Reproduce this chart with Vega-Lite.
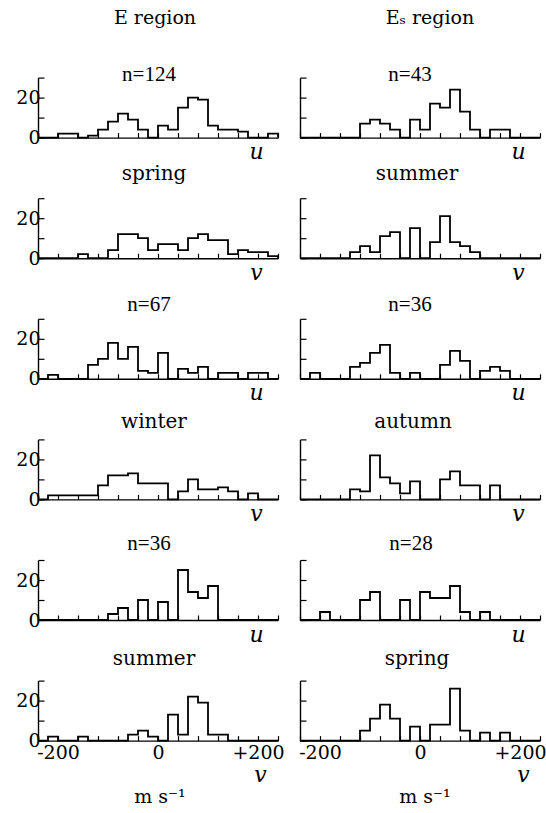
{
  "$schema": "https://vega.github.io/schema/vega-lite/v6.json",
  "padding": {"left": 15, "top": 6, "right": 0, "bottom": 2},
  "background": "white",
  "config": {
    "view": {"stroke": null},
    "title": {"font": "DejaVu Serif", "fontSize": 20, "fontWeight": "normal", "color": "black", "baseline": "alphabetic", "anchor": "middle", "frame": "group"},
    "axis": {"domainColor": "black", "domainWidth": 1.4, "tickColor": "black", "tickWidth": 1.2, "grid": false, "labelFont": "DejaVu Serif", "labelFontSize": 19, "labelColor": "black", "titleFont": "DejaVu Serif", "titleFontStyle": "italic", "titleFontWeight": "normal", "titleFontSize": 22, "titleColor": "black"},
    "axisX": {"tickSize": -5, "labelPadding": 8, "titleAlign": "center", "titleBaseline": "alphabetic", "labelFlush": false, "labelOverlap": false},
    "axisY": {"tickSize": -6, "labelPadding": 4},
    "text": {"font": "DejaVu Serif", "fontSize": 19, "color": "black", "baseline": "alphabetic"}
  },
  "datasets": {
    "p1": [{"x":-240,"c":0},{"x":-220,"c":0},{"x":-200,"c":2},{"x":-180,"c":2},{"x":-160,"c":0},{"x":-140,"c":1},{"x":-120,"c":4},{"x":-100,"c":8},{"x":-80,"c":12},{"x":-60,"c":9},{"x":-40,"c":4},{"x":-20,"c":0},{"x":0,"c":6},{"x":20,"c":4},{"x":40,"c":15},{"x":60,"c":20},{"x":80,"c":19},{"x":100,"c":6},{"x":120,"c":4},{"x":140,"c":4},{"x":160,"c":3},{"x":180,"c":0},{"x":200,"c":0},{"x":220,"c":2},{"x":240,"c":0}],
    "p2": [{"x":-240,"c":0},{"x":-220,"c":0},{"x":-200,"c":0},{"x":-180,"c":0},{"x":-160,"c":0},{"x":-140,"c":0},{"x":-120,"c":7},{"x":-100,"c":9},{"x":-80,"c":7},{"x":-60,"c":4},{"x":-40,"c":0},{"x":-20,"c":9},{"x":0,"c":4},{"x":20,"c":17},{"x":40,"c":15},{"x":60,"c":24},{"x":80,"c":13},{"x":100,"c":4},{"x":120,"c":0},{"x":140,"c":4},{"x":160,"c":4},{"x":180,"c":0},{"x":200,"c":0},{"x":220,"c":0},{"x":240,"c":0}],
    "p3": [{"x":-240,"c":0},{"x":-220,"c":0},{"x":-200,"c":0},{"x":-180,"c":0},{"x":-160,"c":2},{"x":-140,"c":0},{"x":-120,"c":0},{"x":-100,"c":4},{"x":-80,"c":12},{"x":-60,"c":12},{"x":-40,"c":10},{"x":-20,"c":4},{"x":0,"c":7},{"x":20,"c":7},{"x":40,"c":4},{"x":60,"c":10},{"x":80,"c":12},{"x":100,"c":9},{"x":120,"c":9},{"x":140,"c":2},{"x":160,"c":4},{"x":180,"c":3},{"x":200,"c":3},{"x":220,"c":1},{"x":240,"c":0}],
    "p4": [{"x":-240,"c":0},{"x":-220,"c":0},{"x":-200,"c":0},{"x":-180,"c":0},{"x":-160,"c":0},{"x":-140,"c":3},{"x":-120,"c":6},{"x":-100,"c":3},{"x":-80,"c":11},{"x":-60,"c":13},{"x":-40,"c":0},{"x":-20,"c":15},{"x":0,"c":0},{"x":20,"c":8},{"x":40,"c":21},{"x":60,"c":8},{"x":80,"c":6},{"x":100,"c":3},{"x":120,"c":0},{"x":140,"c":0},{"x":160,"c":0},{"x":180,"c":0},{"x":200,"c":0},{"x":220,"c":0},{"x":240,"c":0}],
    "p5": [{"x":-240,"c":0},{"x":-220,"c":2},{"x":-200,"c":0},{"x":-180,"c":0},{"x":-160,"c":0},{"x":-140,"c":7},{"x":-120,"c":10},{"x":-100,"c":18},{"x":-80,"c":10},{"x":-60,"c":16},{"x":-40,"c":4},{"x":-20,"c":3},{"x":0,"c":13},{"x":20,"c":0},{"x":40,"c":5},{"x":60,"c":3},{"x":80,"c":6},{"x":100,"c":0},{"x":120,"c":3},{"x":140,"c":3},{"x":160,"c":0},{"x":180,"c":3},{"x":200,"c":3},{"x":220,"c":0},{"x":240,"c":0}],
    "p6": [{"x":-240,"c":0},{"x":-220,"c":3},{"x":-200,"c":0},{"x":-180,"c":0},{"x":-160,"c":0},{"x":-140,"c":6},{"x":-120,"c":8},{"x":-100,"c":13},{"x":-80,"c":17},{"x":-60,"c":3},{"x":-40,"c":0},{"x":-20,"c":3},{"x":0,"c":0},{"x":20,"c":0},{"x":40,"c":7},{"x":60,"c":14},{"x":80,"c":9},{"x":100,"c":0},{"x":120,"c":4},{"x":140,"c":6},{"x":160,"c":4},{"x":180,"c":0},{"x":200,"c":0},{"x":220,"c":0},{"x":240,"c":0}],
    "p7": [{"x":-240,"c":0},{"x":-220,"c":2},{"x":-200,"c":2},{"x":-180,"c":2},{"x":-160,"c":2},{"x":-140,"c":2},{"x":-120,"c":7},{"x":-100,"c":12},{"x":-80,"c":12},{"x":-60,"c":13},{"x":-40,"c":8},{"x":-20,"c":8},{"x":0,"c":8},{"x":20,"c":0},{"x":40,"c":4},{"x":60,"c":10},{"x":80,"c":5},{"x":100,"c":5},{"x":120,"c":6},{"x":140,"c":4},{"x":160,"c":0},{"x":180,"c":3},{"x":200,"c":0},{"x":220,"c":0},{"x":240,"c":0}],
    "p8": [{"x":-240,"c":0},{"x":-220,"c":0},{"x":-200,"c":0},{"x":-180,"c":0},{"x":-160,"c":0},{"x":-140,"c":5},{"x":-120,"c":4},{"x":-100,"c":22},{"x":-80,"c":11},{"x":-60,"c":8},{"x":-40,"c":3},{"x":-20,"c":9},{"x":0,"c":0},{"x":20,"c":0},{"x":40,"c":10},{"x":60,"c":14},{"x":80,"c":7},{"x":100,"c":7},{"x":120,"c":0},{"x":140,"c":7},{"x":160,"c":0},{"x":180,"c":0},{"x":200,"c":0},{"x":220,"c":0},{"x":240,"c":0}],
    "p9": [{"x":-240,"c":0},{"x":-220,"c":0},{"x":-200,"c":0},{"x":-180,"c":0},{"x":-160,"c":0},{"x":-140,"c":0},{"x":-120,"c":0},{"x":-100,"c":3},{"x":-80,"c":6},{"x":-60,"c":0},{"x":-40,"c":10},{"x":-20,"c":0},{"x":0,"c":9},{"x":20,"c":0},{"x":40,"c":25},{"x":60,"c":14},{"x":80,"c":11},{"x":100,"c":17},{"x":120,"c":0},{"x":140,"c":0},{"x":160,"c":0},{"x":180,"c":0},{"x":200,"c":0},{"x":220,"c":0},{"x":240,"c":0}],
    "p10": [{"x":-240,"c":0},{"x":-220,"c":0},{"x":-200,"c":4},{"x":-180,"c":0},{"x":-160,"c":0},{"x":-140,"c":0},{"x":-120,"c":10},{"x":-100,"c":14},{"x":-80,"c":0},{"x":-60,"c":0},{"x":-40,"c":10},{"x":-20,"c":0},{"x":0,"c":14},{"x":20,"c":11},{"x":40,"c":11},{"x":60,"c":17},{"x":80,"c":4},{"x":100,"c":0},{"x":120,"c":4},{"x":140,"c":0},{"x":160,"c":0},{"x":180,"c":0},{"x":200,"c":0},{"x":220,"c":0},{"x":240,"c":0}],
    "p11": [{"x":-240,"c":0},{"x":-220,"c":2},{"x":-200,"c":0},{"x":-180,"c":0},{"x":-160,"c":2},{"x":-140,"c":0},{"x":-120,"c":0},{"x":-100,"c":0},{"x":-80,"c":0},{"x":-60,"c":3},{"x":-40,"c":5},{"x":-20,"c":2},{"x":0,"c":0},{"x":20,"c":13},{"x":40,"c":3},{"x":60,"c":22},{"x":80,"c":19},{"x":100,"c":3},{"x":120,"c":3},{"x":140,"c":0},{"x":160,"c":0},{"x":180,"c":0},{"x":200,"c":0},{"x":220,"c":0},{"x":240,"c":0}],
    "p12": [{"x":-240,"c":0},{"x":-220,"c":0},{"x":-200,"c":0},{"x":-180,"c":0},{"x":-160,"c":0},{"x":-140,"c":0},{"x":-120,"c":5},{"x":-100,"c":11},{"x":-80,"c":18},{"x":-60,"c":11},{"x":-40,"c":0},{"x":-20,"c":7},{"x":0,"c":0},{"x":20,"c":8},{"x":40,"c":8},{"x":60,"c":26},{"x":80,"c":5},{"x":100,"c":0},{"x":120,"c":4},{"x":140,"c":0},{"x":160,"c":4},{"x":180,"c":0},{"x":200,"c":0},{"x":220,"c":0},{"x":240,"c":0}]
  },
  "hconcat": [
    {
      "bounds": "flush",
      "spacing": 60.6,
      "vconcat": [
        {"width": 240, "height": 10.4, "data": {"values": [{"t": "E region"}]}, "mark": {"type": "text", "dy": 13, "dx": -3}, "encoding": {"text": {"field": "t"}}},
        {"width": 240, "height": 60, "data": {"name": "p1"}, "title": {"text": "n=124", "offset": -8, "dx": -9, "font": "Liberation Serif", "fontSize": 21},
         "mark": {"type": "line", "interpolate": "step-after", "color": "black", "strokeWidth": 1.8},
         "encoding": {"x": {"field": "x", "type": "quantitative", "scale": {"domain": [-240, 240], "nice": false, "zero": false}, "axis": {"values": [-240,-200,-160,-120,-80,-40,0,40,80,120,160,200,240], "labels": false, "title": "u", "titleX": 218, "titleY": 21}},
                      "y": {"field": "c", "type": "quantitative", "scale": {"domain": [0, 30], "nice": false}, "axis": {"values": [0,10,20,30], "labelExpr": "datum.value==0||datum.value==20?datum.label:''", "title": null}}}},
        {"width": 240, "height": 60, "data": {"name": "p3"}, "title": {"text": "spring", "offset": 14, "dx": -4},
         "mark": {"type": "line", "interpolate": "step-after", "color": "black", "strokeWidth": 1.8},
         "encoding": {"x": {"field": "x", "type": "quantitative", "scale": {"domain": [-240, 240], "nice": false, "zero": false}, "axis": {"values": [-240,-200,-160,-120,-80,-40,0,40,80,120,160,200,240], "labels": false, "title": "v", "titleX": 218, "titleY": 21}},
                      "y": {"field": "c", "type": "quantitative", "scale": {"domain": [0, 30], "nice": false}, "axis": {"values": [0,10,20,30], "labelExpr": "datum.value==0||datum.value==20?datum.label:''", "title": null}}}},
        {"width": 240, "height": 60, "data": {"name": "p5"}, "title": {"text": "n=67", "offset": 3, "dx": -9, "font": "Liberation Serif", "fontSize": 21},
         "mark": {"type": "line", "interpolate": "step-after", "color": "black", "strokeWidth": 1.8},
         "encoding": {"x": {"field": "x", "type": "quantitative", "scale": {"domain": [-240, 240], "nice": false, "zero": false}, "axis": {"values": [-240,-200,-160,-120,-80,-40,0,40,80,120,160,200,240], "labels": false, "title": "u", "titleX": 218, "titleY": 21}},
                      "y": {"field": "c", "type": "quantitative", "scale": {"domain": [0, 30], "nice": false}, "axis": {"values": [0,10,20,30], "labelExpr": "datum.value==0||datum.value==20?datum.label:''", "title": null}}}},
        {"width": 240, "height": 60, "data": {"name": "p7"}, "title": {"text": "winter", "offset": 7, "dx": -4},
         "mark": {"type": "line", "interpolate": "step-after", "color": "black", "strokeWidth": 1.8},
         "encoding": {"x": {"field": "x", "type": "quantitative", "scale": {"domain": [-240, 240], "nice": false, "zero": false}, "axis": {"values": [-240,-200,-160,-120,-80,-40,0,40,80,120,160,200,240], "labels": false, "title": "v", "titleX": 218, "titleY": 21}},
                      "y": {"field": "c", "type": "quantitative", "scale": {"domain": [0, 30], "nice": false}, "axis": {"values": [0,10,20,30], "labelExpr": "datum.value==0||datum.value==20?datum.label:''", "title": null}}}},
        {"width": 240, "height": 60, "data": {"name": "p9"}, "title": {"text": "n=36", "offset": 5, "dx": -9, "font": "Liberation Serif", "fontSize": 21},
         "mark": {"type": "line", "interpolate": "step-after", "color": "black", "strokeWidth": 1.8},
         "encoding": {"x": {"field": "x", "type": "quantitative", "scale": {"domain": [-240, 240], "nice": false, "zero": false}, "axis": {"values": [-240,-200,-160,-120,-80,-40,0,40,80,120,160,200,240], "labels": false, "title": "u", "titleX": 218, "titleY": 21}},
                      "y": {"field": "c", "type": "quantitative", "scale": {"domain": [0, 30], "nice": false}, "axis": {"values": [0,10,20,30], "labelExpr": "datum.value==0||datum.value==20?datum.label:''", "title": null}}}},
        {"width": 240, "height": 60, "data": {"name": "p11"}, "title": {"text": "summer", "offset": 11, "dx": -4},
         "mark": {"type": "line", "interpolate": "step-after", "color": "black", "strokeWidth": 1.8},
         "encoding": {"x": {"field": "x", "type": "quantitative", "scale": {"domain": [-240, 240], "nice": false, "zero": false}, "axis": {"values": [-240,-200,-160,-120,-80,-40,0,40,80,120,160,200,240], "labelExpr": "datum.value==-200?'-200':datum.value==0?'0':datum.value==200?'+200':''", "title": "v", "titleX": 222, "titleY": 41}},
                      "y": {"field": "c", "type": "quantitative", "scale": {"domain": [0, 30], "nice": false}, "axis": {"values": [0,10,20,30], "labelExpr": "datum.value==0||datum.value==20?datum.label:''", "title": null}}}},
        {"width": 240, "height": 4, "data": {"values": [{"t": "m s⁻¹"}]}, "mark": {"type": "text", "dx": 2}, "encoding": {"text": {"field": "t"}}}
      ]
    },
    {
      "bounds": "flush",
      "spacing": 60.6,
      "vconcat": [
        {"width": 240, "height": 10.4, "data": {"values": [{"t": "E\u209b region"}]}, "mark": {"type": "text", "dy": 13, "dx": 10}, "encoding": {"text": {"field": "t"}}},
        {"width": 240, "height": 60, "data": {"name": "p2"}, "title": {"text": "n=43", "offset": -8, "dx": -10, "font": "Liberation Serif", "fontSize": 21},
         "mark": {"type": "line", "interpolate": "step-after", "color": "black", "strokeWidth": 1.8},
         "encoding": {"x": {"field": "x", "type": "quantitative", "scale": {"domain": [-240, 240], "nice": false, "zero": false}, "axis": {"values": [-240,-200,-160,-120,-80,-40,0,40,80,120,160,200,240], "labels": false, "title": "u", "titleX": 218, "titleY": 21}},
                      "y": {"field": "c", "type": "quantitative", "scale": {"domain": [0, 30], "nice": false}, "axis": {"values": [0,10,20,30], "labels": false, "title": null}}}},
        {"width": 240, "height": 60, "data": {"name": "p4"}, "title": {"text": "summer", "offset": 14, "dx": -3},
         "mark": {"type": "line", "interpolate": "step-after", "color": "black", "strokeWidth": 1.8},
         "encoding": {"x": {"field": "x", "type": "quantitative", "scale": {"domain": [-240, 240], "nice": false, "zero": false}, "axis": {"values": [-240,-200,-160,-120,-80,-40,0,40,80,120,160,200,240], "labels": false, "title": "v", "titleX": 218, "titleY": 21}},
                      "y": {"field": "c", "type": "quantitative", "scale": {"domain": [0, 30], "nice": false}, "axis": {"values": [0,10,20,30], "labels": false, "title": null}}}},
        {"width": 240, "height": 60, "data": {"name": "p6"}, "title": {"text": "n=36", "offset": 3, "dx": -10, "font": "Liberation Serif", "fontSize": 21},
         "mark": {"type": "line", "interpolate": "step-after", "color": "black", "strokeWidth": 1.8},
         "encoding": {"x": {"field": "x", "type": "quantitative", "scale": {"domain": [-240, 240], "nice": false, "zero": false}, "axis": {"values": [-240,-200,-160,-120,-80,-40,0,40,80,120,160,200,240], "labels": false, "title": "u", "titleX": 218, "titleY": 21}},
                      "y": {"field": "c", "type": "quantitative", "scale": {"domain": [0, 30], "nice": false}, "axis": {"values": [0,10,20,30], "labels": false, "title": null}}}},
        {"width": 240, "height": 60, "data": {"name": "p8"}, "title": {"text": "autumn", "offset": 7, "dx": -7},
         "mark": {"type": "line", "interpolate": "step-after", "color": "black", "strokeWidth": 1.8},
         "encoding": {"x": {"field": "x", "type": "quantitative", "scale": {"domain": [-240, 240], "nice": false, "zero": false}, "axis": {"values": [-240,-200,-160,-120,-80,-40,0,40,80,120,160,200,240], "labels": false, "title": "v", "titleX": 218, "titleY": 21}},
                      "y": {"field": "c", "type": "quantitative", "scale": {"domain": [0, 30], "nice": false}, "axis": {"values": [0,10,20,30], "labels": false, "title": null}}}},
        {"width": 240, "height": 60, "data": {"name": "p10"}, "title": {"text": "n=28", "offset": 5, "dx": -9, "font": "Liberation Serif", "fontSize": 21},
         "mark": {"type": "line", "interpolate": "step-after", "color": "black", "strokeWidth": 1.8},
         "encoding": {"x": {"field": "x", "type": "quantitative", "scale": {"domain": [-240, 240], "nice": false, "zero": false}, "axis": {"values": [-240,-200,-160,-120,-80,-40,0,40,80,120,160,200,240], "labels": false, "title": "u", "titleX": 218, "titleY": 21}},
                      "y": {"field": "c", "type": "quantitative", "scale": {"domain": [0, 30], "nice": false}, "axis": {"values": [0,10,20,30], "labels": false, "title": null}}}},
        {"width": 240, "height": 60, "data": {"name": "p12"}, "title": {"text": "spring", "offset": 11, "dx": -3},
         "mark": {"type": "line", "interpolate": "step-after", "color": "black", "strokeWidth": 1.8},
         "encoding": {"x": {"field": "x", "type": "quantitative", "scale": {"domain": [-240, 240], "nice": false, "zero": false}, "axis": {"values": [-240,-200,-160,-120,-80,-40,0,40,80,120,160,200,240], "labelExpr": "datum.value==-200?'-200':datum.value==0?'0':datum.value==200?'+200':''", "title": "v", "titleX": 223, "titleY": 41}},
                      "y": {"field": "c", "type": "quantitative", "scale": {"domain": [0, 30], "nice": false}, "axis": {"values": [0,10,20,30], "labels": false, "title": null}}}},
        {"width": 240, "height": 4, "data": {"values": [{"t": "m s⁻¹"}]}, "mark": {"type": "text", "dx": 5}, "encoding": {"text": {"field": "t"}}}
      ]
    }
  ],
  "spacing": 11
}
